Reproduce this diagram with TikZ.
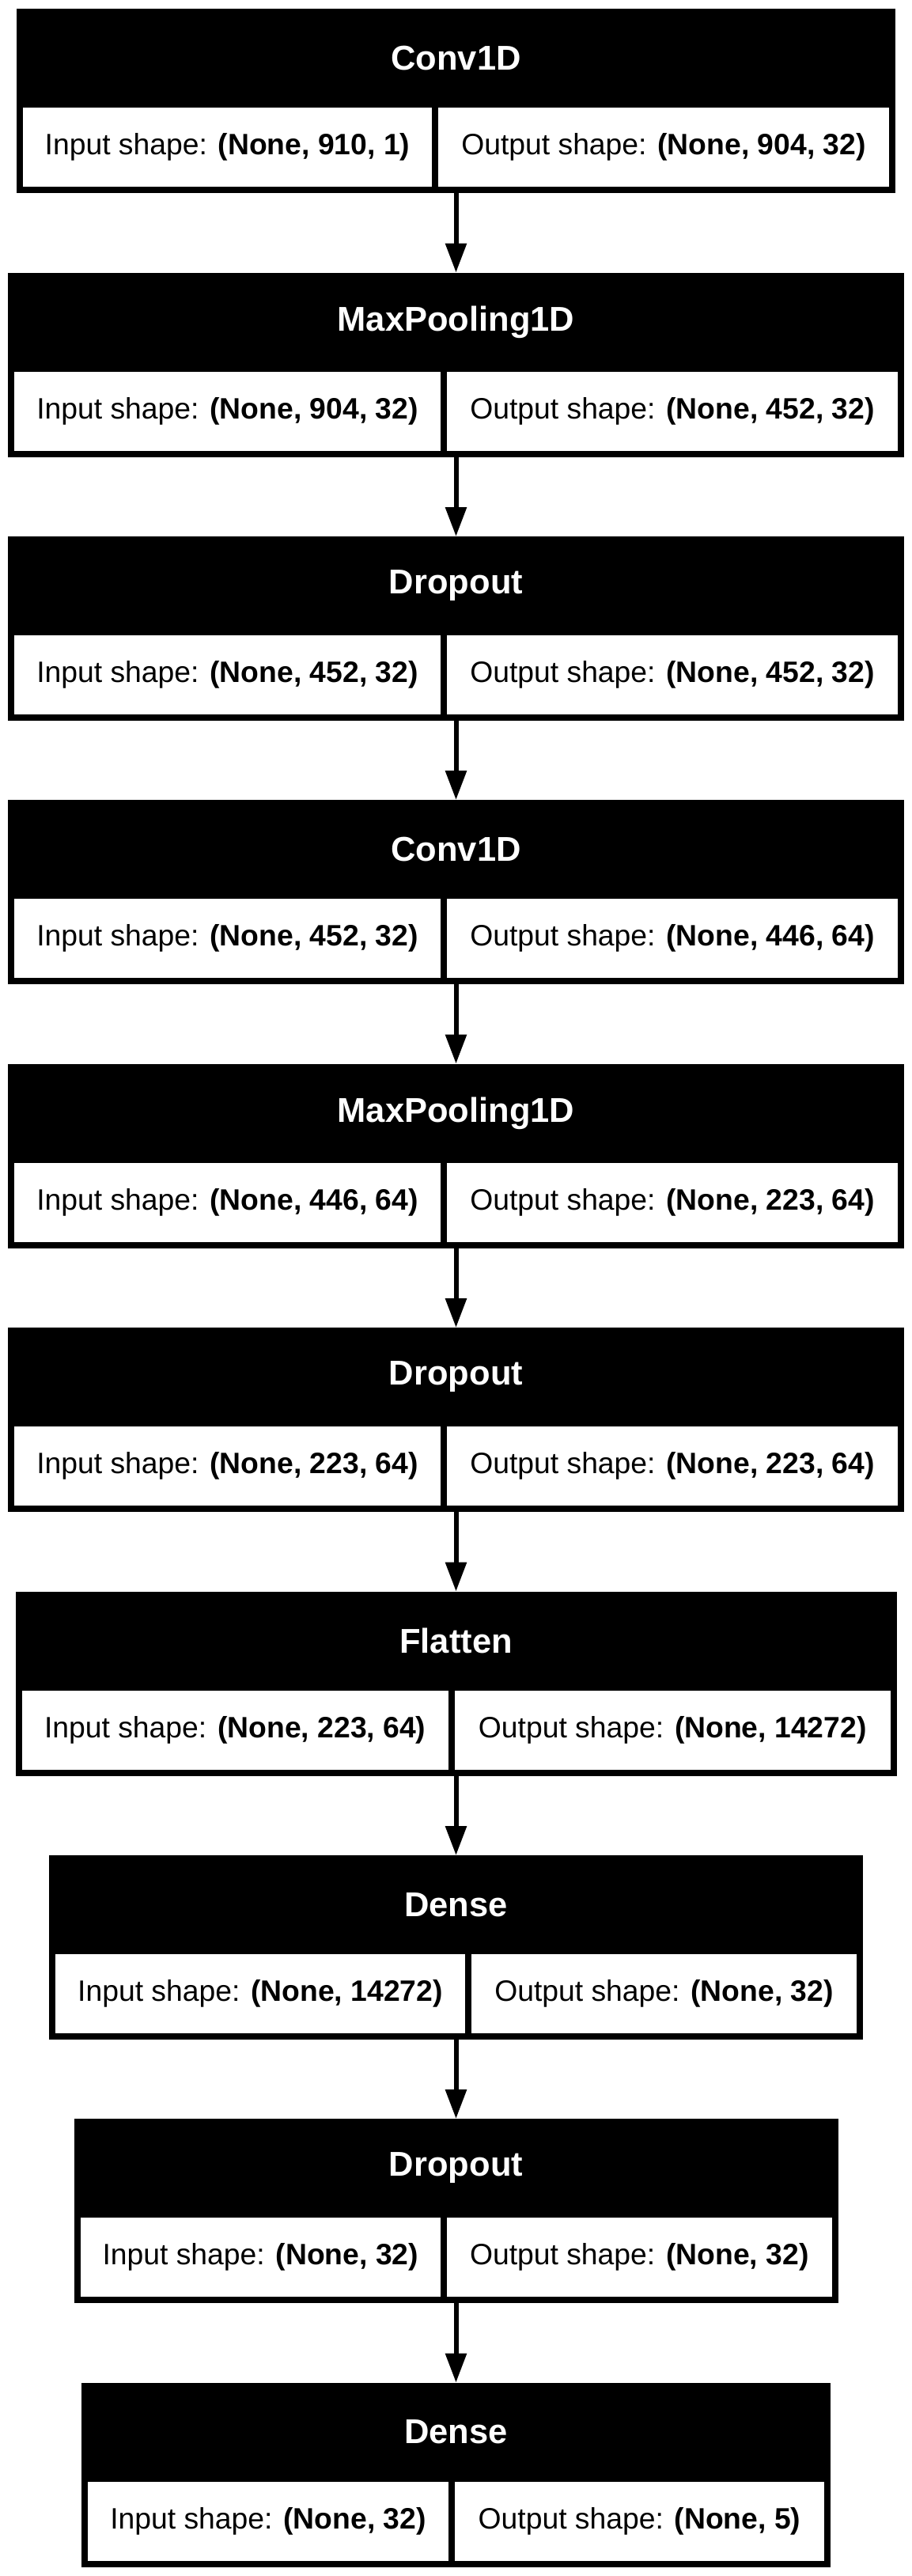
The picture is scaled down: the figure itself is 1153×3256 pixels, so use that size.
\documentclass[tikz,border=0pt]{standalone}
\usepackage{fontspec}
\setmainfont{Liberation Sans}
\usetikzlibrary{arrows.meta}

\begin{document}
\begin{tikzpicture}[x=1pt, y=-1pt,
        layer/.style = {rectangle, fill = black, inner sep = 0, outer sep = 0, minimum height = 233},
        title/.style = {text = white, font = \fontsize{43.5}{50}\selectfont\bfseries, inner sep = 0},
        cell/.style = {rectangle, fill = white, inner sep = 0, outer sep = 0, minimum height = 100, font = \fontsize{37.3}{44}\selectfont},
        flow/.style = {line width = 6, -{Triangle[length = 37, width = 26]}}]
    \useasboundingbox (0, 0) rectangle (1153, 3256);

    % Conv1D
    \node[layer, minimum width = 1111] (conv1) at (576.5, 127.5) {};
    \node[title] (conv1t) at (576.5, 73.5) {Conv1D};
    \node[cell, minimum width = 517] (conv1in) at (287.5, 186) {Input shape: \textbf{(None, 910, 1)}};
    \node[cell, minimum width = 570] (conv1out) at (839, 186) {Output shape: \textbf{(None, 904, 32)}};

    % MaxPooling1D
    \node[layer, minimum width = 1133] (pool1) at (576.5, 461) {};
    \node[title] (pool1t) at (576.5, 407) {MaxPooling1D};
    \node[cell, minimum width = 539] (pool1in) at (287.5, 519.5) {Input shape: \textbf{(None, 904, 32)}};
    \node[cell, minimum width = 570] (pool1out) at (850, 519.5) {Output shape: \textbf{(None, 452, 32)}};

    % Dropout
    \node[layer, minimum width = 1133] (drop1) at (576.5, 794.5) {};
    \node[title] (drop1t) at (576.5, 740.5) {Dropout};
    \node[cell, minimum width = 539] (drop1in) at (287.5, 853) {Input shape: \textbf{(None, 452, 32)}};
    \node[cell, minimum width = 570] (drop1out) at (850, 853) {Output shape: \textbf{(None, 452, 32)}};

    % Conv1D
    \node[layer, minimum width = 1133] (conv2) at (576.5, 1127.5) {};
    \node[title] (conv2t) at (576.5, 1073.5) {Conv1D};
    \node[cell, minimum width = 539] (conv2in) at (287.5, 1186) {Input shape: \textbf{(None, 452, 32)}};
    \node[cell, minimum width = 570] (conv2out) at (850, 1186) {Output shape: \textbf{(None, 446, 64)}};

    % MaxPooling1D
    \node[layer, minimum width = 1133] (pool2) at (576.5, 1461) {};
    \node[title] (pool2t) at (576.5, 1407) {MaxPooling1D};
    \node[cell, minimum width = 539] (pool2in) at (287.5, 1519.5) {Input shape: \textbf{(None, 446, 64)}};
    \node[cell, minimum width = 570] (pool2out) at (850, 1519.5) {Output shape: \textbf{(None, 223, 64)}};

    % Dropout
    \node[layer, minimum width = 1133] (drop2) at (576.5, 1794.5) {};
    \node[title] (drop2t) at (576.5, 1740.5) {Dropout};
    \node[cell, minimum width = 539] (drop2in) at (287.5, 1853) {Input shape: \textbf{(None, 223, 64)}};
    \node[cell, minimum width = 570] (drop2out) at (850, 1853) {Output shape: \textbf{(None, 223, 64)}};

    % Flatten
    \node[layer, minimum width = 1114] (flat) at (576.5, 2128) {};
    \node[title] (flatt) at (576.5, 2074) {Flatten};
    \node[cell, minimum width = 539.5] (flatin) at (297.25, 2186.5) {Input shape: \textbf{(None, 223, 64)}};
    \node[cell, minimum width = 550.5] (flatout) at (850.25, 2186.5) {Output shape: \textbf{(None, 14272)}};

    % Dense
    \node[layer, minimum width = 1029] (dense1) at (576.5, 2461.5) {};
    \node[title] (dense1t) at (576.5, 2407.5) {Dense};
    \node[cell, minimum width = 518] (dense1in) at (329, 2520) {Input shape: \textbf{(None, 14272)}};
    \node[cell, minimum width = 487] (dense1out) at (839.5, 2520) {Output shape: \textbf{(None, 32)}};

    % Dropout
    \node[layer, minimum width = 966] (drop3) at (576.5, 2794.5) {};
    \node[title] (drop3t) at (576.5, 2740.5) {Dropout};
    \node[cell, minimum width = 455.5] (drop3in) at (329.25, 2853) {Input shape: \textbf{(None, 32)}};
    \node[cell, minimum width = 486.5] (drop3out) at (808.25, 2853) {Output shape: \textbf{(None, 32)}};

    % Dense
    \node[layer, minimum width = 947] (dense2) at (576.5, 3128) {};
    \node[title] (dense2t) at (576.5, 3074) {Dense};
    \node[cell, minimum width = 456] (dense2in) at (339, 3186.5) {Input shape: \textbf{(None, 32)}};
    \node[cell, minimum width = 467] (dense2out) at (808.5, 3186.5) {Output shape: \textbf{(None, 5)}};

    \draw [flow] (conv1) -- (pool1);
    \draw [flow] (pool1) -- (drop1);
    \draw [flow] (drop1) -- (conv2);
    \draw [flow] (conv2) -- (pool2);
    \draw [flow] (pool2) -- (drop2);
    \draw [flow] (drop2) -- (flat);
    \draw [flow] (flat) -- (dense1);
    \draw [flow] (dense1) -- (drop3);
    \draw [flow] (drop3) -- (dense2);
\end{tikzpicture}
\end{document}
